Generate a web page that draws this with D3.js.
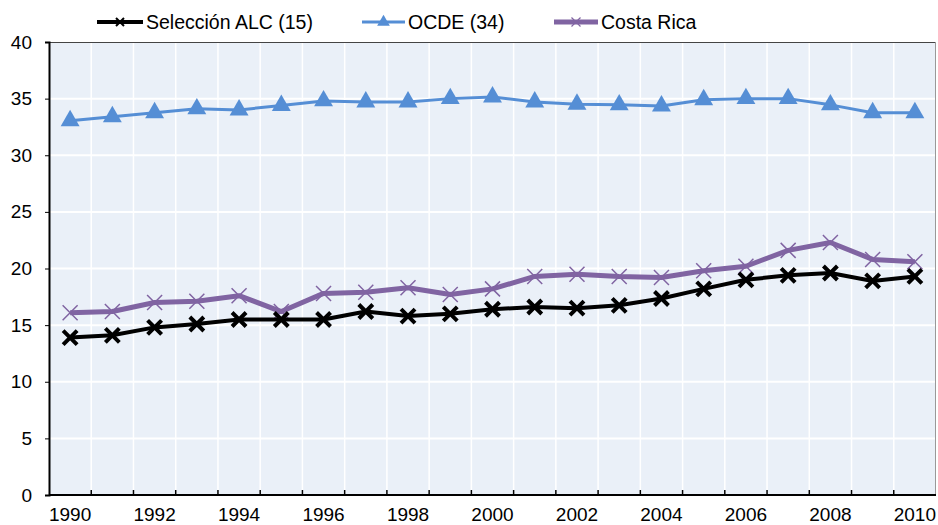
<!DOCTYPE html>
<html>
<head>
<meta charset="utf-8">
<script src="https://cdn.jsdelivr.net/npm/d3@7"></script>
<style>
  body { margin: 0; background: #fff; }
  svg text { font-family: "Liberation Sans", Arial, sans-serif; fill: #000; }
</style>
</head>
<body>
<svg id="chart" width="938" height="525"></svg>
<script>
// data
var years = d3.range(1990, 2011);
var alc = [13.9, 14.1, 14.8, 15.1, 15.5, 15.5, 15.5, 16.2, 15.8, 16.0, 16.4,
           16.6, 16.5, 16.75, 17.35, 18.2, 19.0, 19.4, 19.6, 18.9, 19.3];
var ocde = [33.05, 33.4, 33.75, 34.1, 34.0, 34.4, 34.8, 34.7, 34.7, 35.0, 35.15,
            34.7, 34.5, 34.45, 34.35, 34.9, 35.0, 35.0, 34.45, 33.75, 33.75];
var costaRica = [16.1, 16.2, 17.0, 17.1, 17.6, 16.2, 17.8, 17.9, 18.3, 17.7, 18.2,
                 19.3, 19.5, 19.3, 19.2, 19.8, 20.2, 21.6, 22.3, 20.8, 20.6];
var yTicks = [0, 5, 10, 15, 20, 25, 30, 35, 40];
var seriesNames = ["Selección ALC (15)", "OCDE (34)", "Costa Rica"];

var svg = d3.select("#chart");
var m = {left: 49, top: 42, right: 2, bottom: 30};
var W = 938 - m.left - m.right, H = 525 - m.top - m.bottom;

var x = d3.scaleBand().domain(years).range([0, W]);
var y = d3.scaleLinear().domain([0, 40]).range([H, 0]);
var cx = function(d, i){ return x(years[i]) + x.bandwidth()/2; };

var g = svg.append("g").attr("transform", "translate(" + m.left + "," + m.top + ")");

g.append("rect").attr("width", W).attr("height", H).attr("fill", "#eaf0f8");

// grid
g.selectAll("line.vg").data(years.slice(1)).enter().append("line")
  .attr("x1", function(d){ return x(d); }).attr("x2", function(d){ return x(d); })
  .attr("y1", 0).attr("y2", H).attr("stroke", "#fff").attr("stroke-width", 1.5);
g.selectAll("line.hg").data(yTicks.slice(1, -1)).enter().append("line")
  .attr("x1", 0).attr("x2", W)
  .attr("y1", function(d){ return y(d); }).attr("y2", function(d){ return y(d); })
  .attr("stroke", "#fff").attr("stroke-width", 2);

// frame top/right
g.append("line").attr("x1", 0).attr("x2", W).attr("y1", 0.5).attr("y2", 0.5).attr("stroke", "#444").attr("stroke-width", 1.2);
g.append("line").attr("x1", W - 0.5).attr("x2", W - 0.5).attr("y1", 0).attr("y2", H).attr("stroke", "#999").attr("stroke-width", 1);

// axes
var yAxis = g.append("g").call(d3.axisLeft(y).tickValues(yTicks).tickSize(4).tickPadding(13));
yAxis.select(".domain").attr("stroke", "#000").attr("stroke-width", 2);
yAxis.selectAll("text").attr("font-size", 19).style("font-family", "Liberation Sans, Arial, sans-serif");

var xAxis = g.append("g").attr("transform", "translate(0," + H + ")");
xAxis.append("line").attr("x1", 0).attr("x2", W).attr("stroke", "#000").attr("stroke-width", 2);
xAxis.selectAll("line.tk").data(years.slice(1)).enter().append("line")
  .attr("x1", function(d){ return x(d); }).attr("x2", function(d){ return x(d); })
  .attr("y1", -5).attr("y2", 0).attr("stroke", "#000").attr("stroke-width", 1.5);
xAxis.selectAll("text").data(years.filter(function(d){ return d % 2 === 0; })).enter().append("text")
  .attr("x", function(d){ return x(d) + x.bandwidth()/2; }).attr("y", 25.5)
  .attr("text-anchor", "middle").attr("font-size", 19).text(function(d){ return d; });

// markers
function cross(sel, size, color, width){
  var h = size/2;
  sel.append("path").attr("d", "M" + (-h) + "," + (-h) + "L" + h + "," + h + "M" + (-h) + "," + h + "L" + h + "," + (-h))
    .attr("stroke", color).attr("stroke-width", width).attr("fill", "none");
}
function tri(sel, size, color){
  sel.append("path").attr("d", d3.symbol(d3.symbolTriangle, size)()).attr("fill", color);
}

var series = [
  {name: seriesNames[0], values: alc, color: "#000", lw: 4, mk: function(s){ cross(s, 14, "#000", 4); }},
  {name: seriesNames[1], values: ocde, color: "#558ed5", lw: 3, mk: function(s){ tri(s, 155, "#558ed5"); }},
  {name: seriesNames[2], values: costaRica, color: "#8064a2", lw: 5, mk: function(s){ cross(s, 15, "#8064a2", 1.5); }}
];
var line = d3.line().x(cx).y(function(d){ return y(d); });

[series[1], series[2], series[0]].forEach(function(s){
  g.append("path").datum(s.values).attr("d", line)
    .attr("fill", "none").attr("stroke", s.color).attr("stroke-width", s.lw).attr("stroke-linejoin", "round");
  g.selectAll(null).data(s.values).enter().append("g")
    .attr("transform", function(d, i){ return "translate(" + cx(d, i) + "," + y(d) + ")"; })
    .each(function(){ s.mk(d3.select(this)); });
});

// legend
var legX = [97, 362, 554];
var legLen = [46, 43, 44];
series.forEach(function(s, i){
  var lg = svg.append("g").attr("transform", "translate(" + legX[i] + ",22)");
  var len = legLen[i];
  lg.append("line").attr("x1", 0).attr("x2", len).attr("stroke", s.color).attr("stroke-width", s.lw);
  var mk = lg.append("g").attr("transform", "translate(" + len/2 + ",0)");
  if (i === 0) cross(mk, 8, "#000", 2);
  else if (i === 1) tri(mk, 70, s.color);
  else cross(mk, 9, s.color, 1.2);
  lg.append("text").attr("x", len + 3).attr("y", 7).attr("font-size", 19.5).text(s.name);
});
</script>
</body>
</html>
